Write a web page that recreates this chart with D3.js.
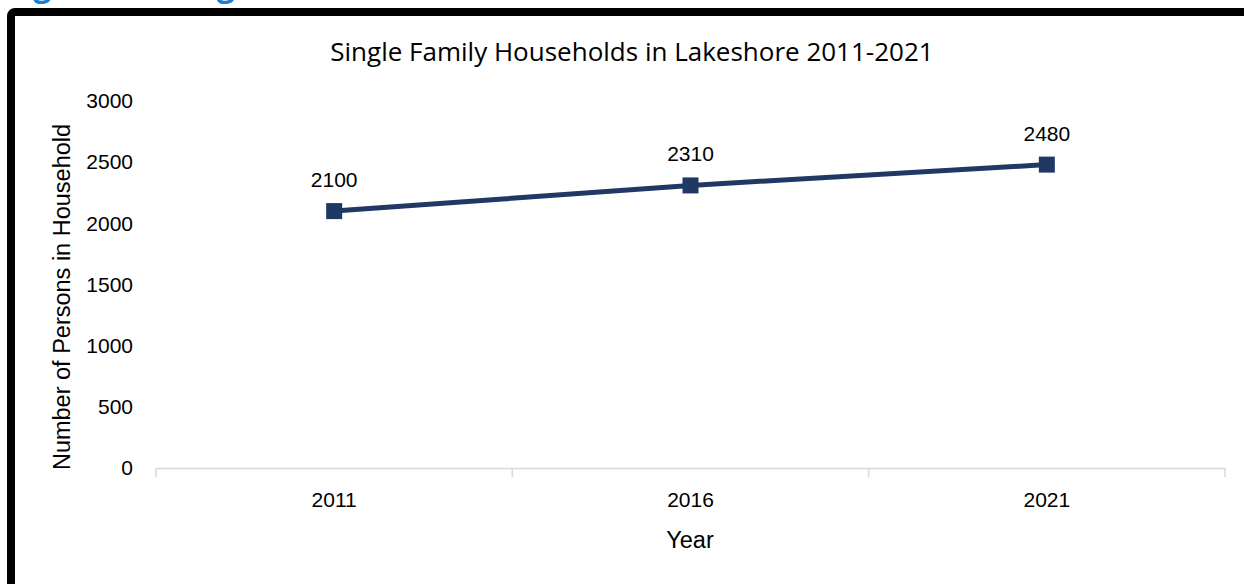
<!DOCTYPE html>
<html><head><meta charset="utf-8">
<script src="https://cdn.jsdelivr.net/npm/d3@7"></script>
<style>html,body{margin:0;padding:0;background:#fff;overflow:hidden}</style>
</head><body>
<svg id="c" width="1244" height="584"></svg>
<script>
const years = ["2011", "2016", "2021"];
const households = [2100, 2310, 2480];
const yTicks = [0, 500, 1000, 1500, 2000, 2500, 3000];
const chartTitle = "Single Family Households in Lakeshore 2011-2021";
const xTitle = "Year";
const yTitle = "Number of Persons in Household";
const figureCaption = "Figure 14: Single Detached Households";

(function () {
const svg = d3.select("#c");
const font = "'Liberation Sans', Arial, sans-serif";
const navy = "#203864";

// caption above the frame, mostly outside the picture
svg.append("text").attr("x", 6).attr("y", -4.5)
  .attr("font-family", "'Open Sans', sans-serif").attr("font-weight", 700)
  .attr("font-size", 32).attr("fill", "#1a7fd0").text(figureCaption);

// frame
svg.append("rect").attr("x", 11).attr("y", 12).attr("width", 1300).attr("height", 700)
  .attr("rx", 4).attr("fill", "#fff").attr("stroke", "#000").attr("stroke-width", 8);

const pl = 156, pr = 1225, pt = 101, pb = 468;
const x = d3.scaleBand().domain(years).range([pl, pr]);
const y = d3.scaleLinear().domain([0, 3000]).range([pb, pt]);

const ya = svg.append("g").attr("transform", `translate(${pl},0)`)
  .call(d3.axisLeft(y).tickValues(yTicks).tickFormat(d3.format("d")).tickSize(0).tickPadding(23));
ya.select(".domain").remove();
ya.selectAll("text").attr("font-family", font).attr("font-size", 21).attr("fill", "#000");

const xa = svg.append("g").attr("transform", `translate(0,${pb})`)
  .call(d3.axisBottom(x).tickSize(0).tickPadding(24));
xa.select(".domain").attr("stroke", "#d9d9d9").attr("stroke-width", 1.5);
xa.selectAll("text").attr("font-family", font).attr("font-size", 21).attr("fill", "#000");
const bounds = years.map(d => x(d)).concat([x(years[years.length - 1]) + x.bandwidth()]);
xa.selectAll(".bnd").data(bounds).enter().append("line").attr("class", "bnd")
  .attr("x1", d => d).attr("x2", d => d).attr("y1", 0).attr("y2", 9)
  .attr("stroke", "#d9d9d9").attr("stroke-width", 1.5);

const cx = d => x(d) + x.bandwidth() / 2;
const line = d3.line().x((d, i) => cx(years[i])).y(d => y(d));
svg.append("path").datum(households).attr("d", line)
  .attr("fill", "none").attr("stroke", navy).attr("stroke-width", 5);
svg.selectAll(".mk").data(households).enter().append("rect").attr("class", "mk")
  .attr("x", (d, i) => cx(years[i]) - 8).attr("y", d => y(d) - 8)
  .attr("width", 16).attr("height", 16).attr("fill", navy);
svg.selectAll(".lb").data(households).enter().append("text").attr("class", "lb")
  .attr("x", (d, i) => cx(years[i])).attr("y", d => y(d) - 24)
  .attr("text-anchor", "middle").attr("font-family", font).attr("font-size", 21)
  .text(d => d);

svg.append("text").attr("x", 632).attr("y", 61).attr("text-anchor", "middle")
  .attr("font-family", "'Open Sans', sans-serif").attr("font-size", 26).text(chartTitle);
svg.append("text").attr("x", 690).attr("y", 548).attr("text-anchor", "middle")
  .attr("font-family", font).attr("font-size", 23.5).text(xTitle);
svg.append("text").attr("transform", "translate(70,297) rotate(-90)").attr("text-anchor", "middle")
  .attr("font-family", font).attr("font-size", 23.5).text(yTitle);
})();
</script>
</body></html>
